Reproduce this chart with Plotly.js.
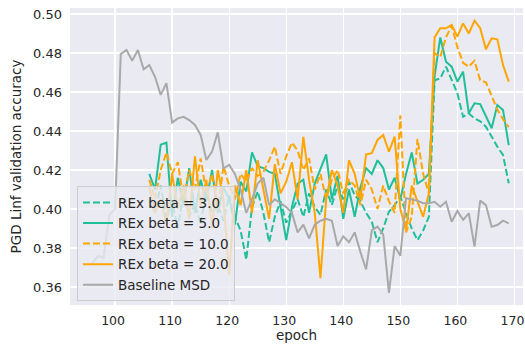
<!DOCTYPE html>
<html>
<head>
<meta charset="utf-8">
<script src="https://cdn.plot.ly/plotly-3.0.1.min.js"></script>
<style>
  html, body { margin: 0; padding: 0; background: #ffffff; }
  #chart { width: 525px; height: 352px; }
</style>
</head>
<body>
<div id="chart"></div>
<script>
// Epochs logged for the REx runs and for the baseline run
const rexEpochs = [106,107,108,109,110,111,112,113,114,115,116,117,118,119,120,
  121,122,123,124,125,126,127,128,129,130,131,132,133,134,135,136,137,138,139,140,
  141,142,143,144,145,146,147,148,149,150,151,152,153,154,155,156,157,158,159,160,
  161,162,163,164,165,166,167,168,169];
const baselineEpochs = [96,97,98,99,100,101,102,103,104,105,106,107,108,109,110,
  111,112,113,114,115,116,117,118,119,120,121,122,123,124,125,126,127,128,129,130,
  131,132,133,134,135,136,137,138,139,140,141,142,143,144,145,146,147,148,149,150,
  151,152,153,154,155,156,157,158,159,160,161,162,163,164,165,166,167,168,169];

// PGD Linf validation accuracy per epoch
const rexBeta3 = [0.405,0.398,0.412,0.395,0.404,0.390,0.408,0.396,0.403,0.392,
  0.410,0.398,0.402,0.394,0.407,0.396,0.389,0.374,0.401,0.409,0.398,0.383,0.396,
  0.404,0.393,0.399,0.405,0.396,0.408,0.401,0.397,0.410,0.402,0.412,0.405,0.414,
  0.407,0.404,0.398,0.3935,0.383,0.390,0.3986,0.402,0.4063,0.398,0.390,0.384,0.389,
  0.396,0.466,0.467,0.473,0.4662,0.4593,0.4473,0.449,0.4465,0.445,0.4422,0.4371,
  0.432,0.4277,0.4132];
const rexBeta5 = [0.418,0.410,0.433,0.434,0.396,0.416,0.402,0.421,0.398,0.415,
  0.404,0.420,0.398,0.411,0.405,0.392,0.414,0.409,0.429,0.422,0.421,0.419,0.418,
  0.402,0.384,0.401,0.413,0.415,0.398,0.413,0.421,0.428,0.405,0.417,0.395,0.410,
  0.396,0.411,0.421,0.418,0.425,0.421,0.410,0.416,0.405,0.418,0.429,0.413,0.415,
  0.418,0.468,0.488,0.4755,0.473,0.4653,0.4704,0.4491,0.4542,0.4538,0.448,0.4414,
  0.4533,0.4508,0.4328];
const rexBeta10 = [0.415,0.405,0.420,0.429,0.418,0.424,0.405,0.420,0.410,0.426,
  0.408,0.418,0.400,0.422,0.412,0.405,0.418,0.414,0.421,0.417,0.419,0.425,0.432,
  0.418,0.427,0.434,0.430,0.420,0.426,0.410,0.418,0.405,0.415,0.420,0.408,0.415,
  0.412,0.402,0.415,0.410,0.400,0.412,0.404,0.398,0.448,0.388,0.396,0.436,0.418,
  0.408,0.480,0.478,0.488,0.494,0.483,0.475,0.473,0.476,0.466,0.465,0.458,0.451,
  0.446,0.442];
const rexBeta20 = [0.411,0.398,0.405,0.392,0.418,0.400,0.412,0.395,0.427,0.402,
  0.415,0.390,0.420,0.405,0.366,0.412,0.402,0.420,0.398,0.425,0.410,0.395,0.423,
  0.408,0.414,0.424,0.405,0.437,0.415,0.398,0.3645,0.405,0.420,0.412,0.398,0.425,
  0.418,0.405,0.428,0.4286,0.4354,0.438,0.4294,0.4371,0.400,0.389,0.412,0.404,0.396,
  0.408,0.488,0.4927,0.4927,0.4944,0.4884,0.4952,0.490,0.4966,0.4927,0.4819,0.4875,
  0.487,0.4738,0.4653];
const baselineMsd = [0.372,0.376,0.375,0.397,0.400,0.4795,0.4815,0.476,0.4815,
  0.4716,0.4738,0.4678,0.4585,0.4645,0.4443,0.4465,0.4473,0.4456,0.4431,0.438,
  0.4251,0.4294,0.4393,0.4209,0.4226,0.418,0.410,0.398,0.405,0.413,0.416,0.402,
  0.405,0.403,0.401,0.398,0.388,0.392,0.385,0.392,0.394,0.395,0.394,0.381,0.386,
  0.383,0.388,0.378,0.369,0.389,0.391,0.387,0.357,0.381,0.376,0.4055,0.405,0.4043,
  0.403,0.4029,0.4037,0.4012,0.4037,0.3935,0.399,0.3944,0.3978,0.3807,0.4043,
  0.402,0.3909,0.3918,0.394,0.3926];

const seriesNames = ['REx beta = 3.0', 'REx beta = 5.0', 'REx beta = 10.0',
  'REx beta = 20.0', 'Baseline MSD'];
const xTicks = [100, 110, 120, 130, 140, 150, 160, 170];
const yTicks = [0.36, 0.38, 0.40, 0.42, 0.44, 0.46, 0.48, 0.50];

const TEAL = '#1fbf9a';
const ORANGE = '#ffa500';
const GREY = '#a9a9a9';
const DASH = '7px,3px';

function line(x, y, name, color, dash) {
  return {
    type: 'scatter', mode: 'lines', x: x, y: y, name: name,
    line: { color: color, width: 2, dash: dash || 'solid' }
  };
}

const traces = [
  line(rexEpochs, rexBeta3, seriesNames[0], TEAL, DASH),
  line(rexEpochs, rexBeta5, seriesNames[1], TEAL),
  line(rexEpochs, rexBeta10, seriesNames[2], ORANGE, DASH),
  line(rexEpochs, rexBeta20, seriesNames[3], ORANGE),
  line(baselineEpochs, baselineMsd, seriesNames[4], GREY)
];

const FONT = 'DejaVu Sans, sans-serif';
const TEXT = '#262626';

const layout = {
  width: 525, height: 352,
  margin: { l: 70, r: 2, t: 8, b: 47 },
  paper_bgcolor: '#ffffff',
  plot_bgcolor: '#eaeaf2',
  font: { family: FONT, size: 13, color: TEXT },
  showlegend: true,
  legend: {
    x: 0.0155, y: 0.40, xanchor: 'left', yanchor: 'top',
    bgcolor: 'rgba(234,234,242,0.8)',
    bordercolor: '#cccccc', borderwidth: 1,
    font: { family: FONT, size: 13.5, color: TEXT },
    tracegroupgap: 0
  },
  xaxis: {
    range: [92.1, 171.5],
    tickvals: xTicks,
    ticktext: xTicks.map(String),
    showgrid: true, gridcolor: '#ffffff', gridwidth: 1.3,
    zeroline: false, showline: false, ticks: '',
    ticklabelstandoff: 6,
    ticklabelshift: -2,
    ticklabeloverflow: 'allow',
    tickfont: { family: FONT, size: 12.5, color: TEXT },
    title: { text: 'epoch', font: { family: FONT, size: 13.5, color: TEXT }, standoff: 3 }
  },
  yaxis: {
    range: [0.35077, 0.50308],
    tickvals: yTicks,
    ticktext: yTicks.map(v => v.toFixed(2)),
    showgrid: true, gridcolor: '#ffffff', gridwidth: 1.3,
    zeroline: false, showline: false, ticks: '',
    ticklabelstandoff: 7,
    tickfont: { family: FONT, size: 13, color: TEXT },
    title: { text: 'PGD Linf validation accuracy', font: { family: FONT, size: 13.5, color: TEXT }, standoff: 8 }
  }
};

Plotly.newPlot('chart', traces, layout, { staticPlot: true, displayModeBar: false });
</script>
</body>
</html>
